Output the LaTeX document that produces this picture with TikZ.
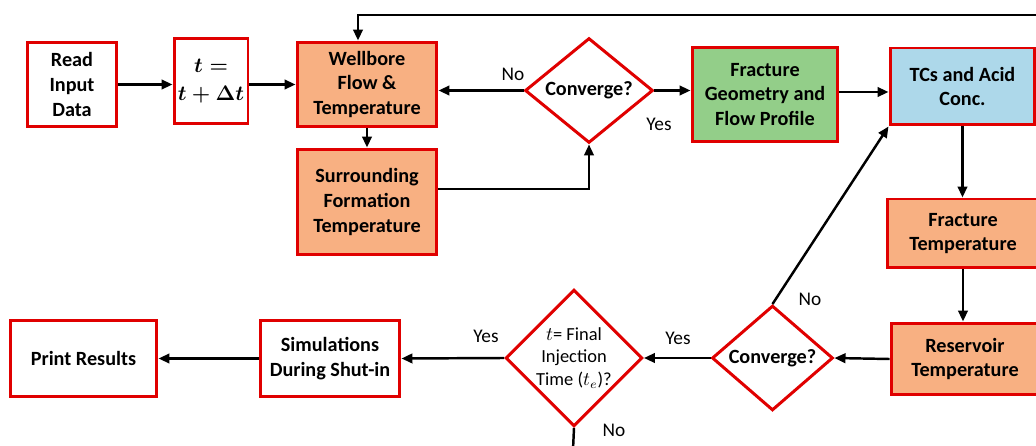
\documentclass[tikz,border=0pt]{standalone}
\usepackage{fontspec}
\setmainfont{Carlito}
\usepackage{amsmath,amssymb}
\usetikzlibrary{arrows.meta,shapes.geometric,positioning}
\definecolor{boxred}{RGB}{224,0,0}
\definecolor{peach}{RGB}{248,176,130}
\definecolor{leaf}{RGB}{147,206,137}
\definecolor{sky}{RGB}{173,216,234}
\tikzset{
  block/.style={draw=boxred, line width=1.7pt, fill=white, align=center, inner sep=1pt,
    font=\fontsize{11.5}{14}\selectfont\bfseries},
  decide/.style={diamond, draw=boxred, line width=1.7pt, fill=white, align=center, inner sep=0pt,
    font=\fontsize{11.5}{14}\selectfont\bfseries},
  flow/.style={line width=1.4pt, -{Triangle[length=2.2mm,width=1.9mm]}},
  lbl/.style={font=\fontsize{11}{13}\selectfont}
}
\begin{document}
\begin{tikzpicture}[x=0.02cm,y=-0.02cm]
\useasboundingbox (0,0) rectangle (1036,446);
%top row
\node[block, minimum width=1.8cm, minimum height=1.7cm] (rd) at (72,84.5) {Read\\Input\\Data};
\node[block, minimum width=1.48cm, minimum height=1.72cm, font=\fontsize{12}{16}\selectfont\boldmath] (tstep) at (211,81) {$t=$\\$t+\Delta t$};
\node[block, fill=peach, minimum width=2.8cm, minimum height=1.7cm] (wb) at (367,84.5) {Wellbore\\Flow \&\\Temperature};
\node[block, fill=peach, minimum width=2.8cm, minimum height=2.12cm] (sf) at (367,202) {Surrounding\\Formation\\Temperature};
\node[decide, minimum width=2.56cm, minimum height=1.94cm] (conv1) at (589,90.5) {Converge?};
\node[block, fill=leaf, minimum width=2.92cm, minimum height=1.9cm] (fg) at (765,94.5) {Fracture\\Geometry and\\Flow Profile};
\node[block, fill=sky, minimum width=2.9cm, minimum height=1.54cm] (tcs) at (962.5,86.5) {TCs and Acid\\Conc.};
%right column
\node[block, fill=peach, minimum width=3.04cm, minimum height=1.38cm] (ft) at (963,233.5) {Fracture\\Temperature};
\node[block, fill=peach, minimum width=2.96cm, minimum height=1.44cm] (res) at (965,359) {Reservoir\\Temperature};
%bottom row
\node[decide, minimum width=2.42cm, minimum height=1.96cm] (conv2) at (772.5,358) {Converge?};
\node[decide, minimum width=2.68cm, minimum height=2.68cm, font=\fontsize{10.5}{13}\selectfont] (tfin) at (574,358) {$t$= Final\\Injection\\Time ($t_e$)?};
\node[block, minimum width=2.8cm, minimum height=1.54cm] (sim) at (330,358.5) {Simulations\\During Shut-in};
\node[block, minimum width=2.94cm, minimum height=1.54cm] (pr) at (83.5,358.5) {Print Results};
%loose ends
\coordinate (loop) at (1040,15);
\coordinate (tail) at (573,450);
%connectors
\draw[flow] (rd.east) -- (rd.east -| tstep.west);
\draw[flow] (wb.west -| tstep.east) -- (wb.west);
\draw[flow] (wb.south) -- (sf.north);
\draw[flow] (loop) -| ([xshift=-0.18cm]wb.north);
\draw[flow] (conv1.west) -- (conv1.west -| wb.east);
\draw[flow] ([yshift=0.26cm]sf.east) -| (conv1.south);
\draw[flow] (conv1.east) -- (conv1.east -| fg.west);
\draw[flow] ([yshift=0.05cm]fg.east) -- ([yshift=0.05cm]fg.east -| tcs.west);
\draw[flow] (tcs.south) -- (tcs.south |- ft.north);
\draw[flow] (ft.south) -- (ft.south |- res.north);
\draw[flow] (res.west) -- (conv2.east);
\draw[flow] (conv2.north) -- (tcs.south west);
\draw[flow] (conv2.west) -- (tfin.east);
\draw[flow] (tfin.west) -- (sim.east);
\draw[flow] (sim.west) -- (pr.east);
\draw[line width=1.4pt] (tfin.south) -- (tail);
%labels
\node[lbl] (no1) at (513,74) {No};
\node[lbl] (yes1) at (659,124) {Yes};
\node[lbl] (no2) at (810,299) {No};
\node[lbl] (yes2) at (678,338) {Yes};
\node[lbl] (yes3) at (486,336) {Yes};
\node[lbl] (no3) at (614,430) {No};
\end{tikzpicture}
\end{document}
